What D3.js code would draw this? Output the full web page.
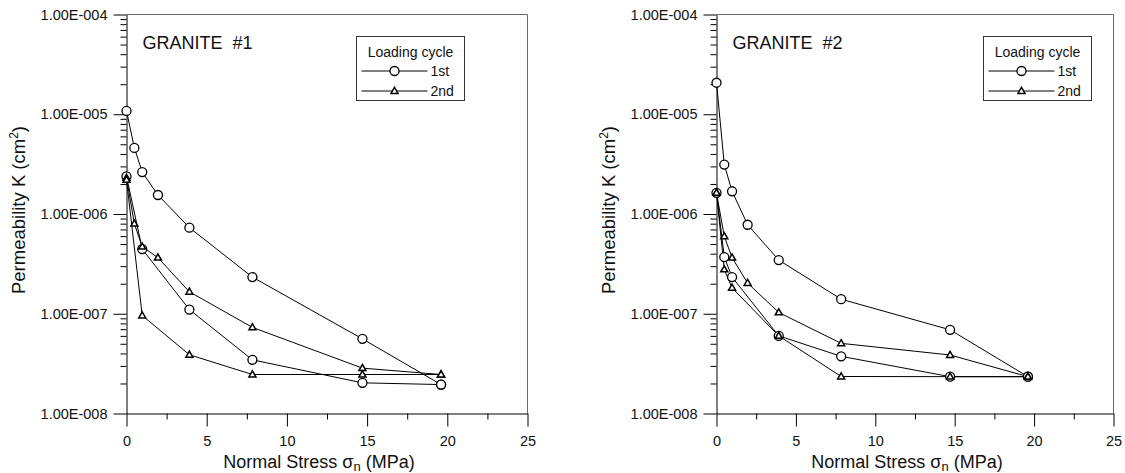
<!DOCTYPE html>
<html>
<head>
<meta charset="utf-8">
<script src="https://cdn.jsdelivr.net/npm/d3@7"></script>
<style>
  html, body { margin: 0; padding: 0; background: #fff; }
  svg { display: block; font-family: "Liberation Sans", Arial, sans-serif; }
</style>
</head>
<body>
<svg id="chart" width="1125" height="473"></svg>
<script>
// Normal stress steps (MPa)
const stressLoad   = [0, 0.49, 0.98, 1.96, 3.92, 7.85, 14.71, 19.61];
const stressUnload1 = [19.61, 14.71, 7.85, 3.92, 0.98, 0];
const stressUnload2 = [19.61, 14.71, 7.85, 3.92, 0.98, 0.49, 0];

// Granite #1 permeability (cm^2)
const g1Load1   = [1.08e-5, 4.6e-6, 2.63e-6, 1.55e-6, 7.3e-7, 2.33e-7, 5.6e-8, 1.95e-8];
const g1Unload1 = [1.95e-8, 2.03e-8, 3.45e-8, 1.1e-7, 4.45e-7, 2.38e-6];
const g1Load2   = [2.3e-6, 8.0e-7, 4.7e-7, 3.65e-7, 1.66e-7, 7.3e-8, 2.85e-8, 2.46e-8];
const g1Unload2 = [2.46e-8, 2.46e-8, 2.46e-8, 3.88e-8, 9.6e-8, 2.2e-6];

// Granite #2 permeability (cm^2)
const g2Load1   = [2.07e-5, 3.13e-6, 1.69e-6, 7.8e-7, 3.45e-7, 1.4e-7, 6.9e-8, 2.34e-8];
const g2Unload1 = [2.34e-8, 2.34e-8, 3.74e-8, 6.0e-8, 2.33e-7, 3.7e-7, 1.63e-6];
const g2Load2   = [1.63e-6, 5.97e-7, 3.65e-7, 2.03e-7, 1.03e-7, 5.05e-8, 3.86e-8, 2.34e-8];
const g2Unload2 = [2.34e-8, 2.34e-8, 2.35e-8, 6.0e-8, 1.82e-7, 2.78e-7, 1.63e-6];

// Axis ticks
const xMajorTicks = [0, 5, 10, 15, 20, 25];
const xMinorTicks = [2.5, 7.5, 12.5, 17.5, 22.5];
const yMajorTicks = [1e-4, 1e-5, 1e-6, 1e-7, 1e-8];

const legendTitle = "Loading cycle";
const legendLabels = ["1st", "2nd"];

const panels = [
  { title: "GRANITE  #1", left: 126.5, right: 527.5, top: 14.5, bottom: 413.5, legendX: 356.5,
    series: [
      { x: stressLoad,    y: g1Load1,   marker: "circle" },
      { x: stressUnload1, y: g1Unload1, marker: "circle" },
      { x: stressLoad,    y: g1Load2,   marker: "triangle" },
      { x: stressUnload1, y: g1Unload2, marker: "triangle" }
    ] },
  { title: "GRANITE  #2", left: 716.5, right: 1113.5, top: 14.5, bottom: 413.5, legendX: 983.5,
    series: [
      { x: stressLoad,    y: g2Load1,   marker: "circle" },
      { x: stressUnload2, y: g2Unload1, marker: "circle" },
      { x: stressLoad,    y: g2Load2,   marker: "triangle" },
      { x: stressUnload2, y: g2Unload2, marker: "triangle" }
    ] }
];

const svg = d3.select("#chart");

const expFormat = v => {
  const e = Math.round(Math.log10(v));
  return "1.00E" + (e < 0 ? "-" : "+") + String(Math.abs(e)).padStart(3, "0");
};

const yMinorTicks = [];
for (let e = -8; e < -4; e++) {
  for (let m = 2; m <= 9; m++) yMinorTicks.push(m * Math.pow(10, e));
}

const triPath = "M0,-3.7L3.5,2.4L-3.5,2.4Z";

function drawMarker(g, kind, cx, cy) {
  if (kind === "circle") {
    g.append("circle").attr("cx", cx).attr("cy", cy).attr("r", 4.5)
      .attr("fill", "#fff").attr("stroke", "#000").attr("stroke-width", 1.3);
  } else {
    g.append("path").attr("d", triPath).attr("transform", `translate(${cx},${cy})`)
      .attr("fill", "#fff").attr("stroke", "#000").attr("stroke-width", 1.5)
      .attr("stroke-linejoin", "miter");
  }
}

panels.forEach(p => {
  const x = d3.scaleLinear().domain([0, 25]).range([p.left, p.right]);
  const y = d3.scaleLog().domain([1e-8, 1e-4]).range([p.bottom, p.top]);
  const g = svg.append("g");

  // frame: top and right edges
  g.append("path")
    .attr("d", `M${p.left},${p.top}H${p.right}V${p.bottom}`)
    .attr("fill", "none").attr("stroke", "#6a6a6a").attr("stroke-width", 1);

  // left axis (major + minor)
  g.append("g").attr("transform", `translate(${p.left},0)`)
    .call(d3.axisLeft(y).tickValues(yMajorTicks).tickFormat(expFormat)
      .tickSize(13).tickSizeOuter(0).tickPadding(6));
  g.append("g").attr("transform", `translate(${p.left},0)`)
    .call(d3.axisLeft(y).tickValues(yMinorTicks).tickFormat("")
      .tickSize(6).tickSizeOuter(0))
    .select(".domain").remove();

  // bottom axis (major + minor)
  g.append("g").attr("transform", `translate(0,${p.bottom})`)
    .call(d3.axisBottom(x).tickValues(xMajorTicks).tickFormat(d3.format("d"))
      .tickSize(13).tickSizeOuter(0).tickPadding(9));
  g.append("g").attr("transform", `translate(0,${p.bottom})`)
    .call(d3.axisBottom(x).tickValues(xMinorTicks).tickFormat("")
      .tickSize(6).tickSizeOuter(0))
    .select(".domain").remove();

  g.selectAll(".tick line, .domain").attr("stroke", "#000").attr("stroke-width", 1);
  g.selectAll(".tick text").attr("font-size", 14.5).attr("fill", "#111")
    .attr("font-family", "'Liberation Sans', Arial, sans-serif");

  // axis titles
  const xt = g.append("text")
    .attr("x", (p.left + p.right) / 2 - 8).attr("y", p.bottom + 54)
    .attr("text-anchor", "middle").attr("font-size", 18).attr("fill", "#111");
  xt.append("tspan").text("Normal Stress \u03C3");
  xt.append("tspan").text("n").attr("font-size", 13).attr("dy", 3);
  xt.append("tspan").text(" (MPa)").attr("dy", -3);

  const cy = (p.top + p.bottom) / 2;
  const yt = g.append("text")
    .attr("transform", `translate(${p.left - 102},${cy - 4}) rotate(-90)`)
    .attr("text-anchor", "middle").attr("font-size", 18.5).attr("fill", "#111");
  yt.append("tspan").text("Permeability K (cm");
  yt.append("tspan").text("2").attr("font-size", 12).attr("dy", -7);
  yt.append("tspan").text(")").attr("dy", 7);

  // panel title
  g.append("text").attr("x", p.left + 16).attr("y", p.top + 34.5)
    .attr("font-size", 18).attr("fill", "#111")
    .attr("xml:space", "preserve").style("white-space", "pre")
    .text(p.title);

  // series lines
  const line = d3.line().x(d => x(d[0])).y(d => y(d[1]));
  p.series.forEach(s => {
    const pts = s.x.map((v, i) => [v, s.y[i]]);
    g.append("path").datum(pts).attr("d", line)
      .attr("fill", "none").attr("stroke", "#000").attr("stroke-width", 1);
  });
  p.series.forEach(s => {
    s.x.forEach((v, i) => drawMarker(g, s.marker, x(v), y(s.y[i])));
  });

  // legend
  const lx = p.legendX, ly = 36.5, lw = 108, lh = 64;
  const lg = g.append("g");
  lg.append("rect").attr("x", lx).attr("y", ly).attr("width", lw).attr("height", lh)
    .attr("fill", "#fff").attr("stroke", "#333").attr("stroke-width", 1);
  lg.append("text").attr("x", lx + lw / 2).attr("y", ly + 20)
    .attr("text-anchor", "middle").attr("font-size", 14).attr("fill", "#111")
    .text(legendTitle);
  ["circle", "triangle"].forEach((m, i) => {
    const yy = ly + 34.5 + i * 20;
    lg.append("line").attr("x1", lx + 5).attr("x2", lx + 71).attr("y1", yy).attr("y2", yy)
      .attr("stroke", "#000").attr("stroke-width", 1);
    drawMarker(lg, m, lx + 38, yy);
    lg.append("text").attr("x", lx + 74).attr("y", yy + 5)
      .attr("font-size", 14).attr("fill", "#111").text(legendLabels[i]);
  });
});
</script>
</body>
</html>
